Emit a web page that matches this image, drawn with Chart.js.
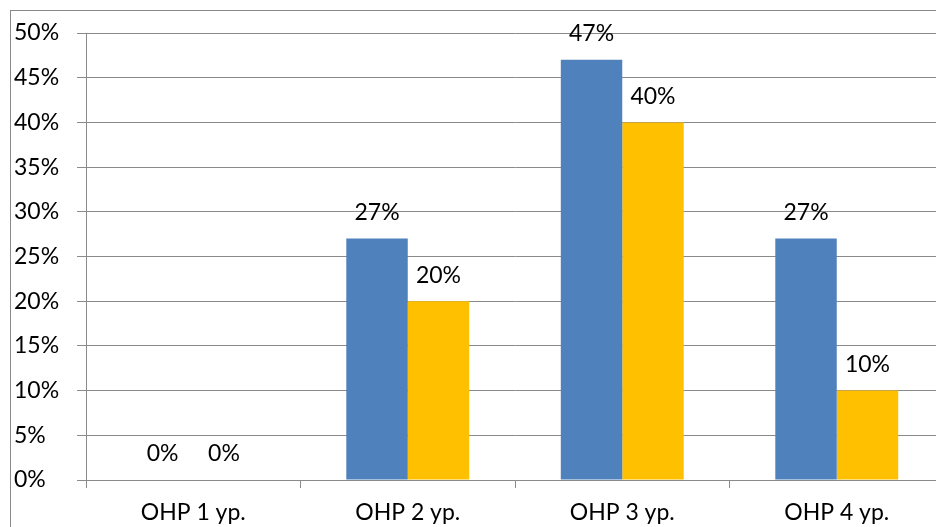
<!DOCTYPE html>
<html>
<head>
<meta charset="utf-8">
<script src="https://cdn.jsdelivr.net/npm/chart.js@4"></script>
<style>
  html, body { margin: 0; padding: 0; background: #fff; overflow: hidden; }
  #wrap { width: 960px; height: 527px; position: relative; }
</style>
</head>
<body>
<div id="wrap"><canvas id="chart"></canvas></div>
<script>
const categories = ['ОНР 1 ур.', 'ОНР 2 ур.', 'ОНР 3 ур.', 'ОНР 4 ур.'];
const seriesA = [0, 27, 47, 27];
const seriesB = [0, 20, 40, 10];
const yTicks = [0, 5, 10, 15, 20, 25, 30, 35, 40, 45, 50];

const gridColor = '#8a8a8a';
const font = { family: 'Lato', size: 23 };

// рамка вокруг диаграммы и подписи значений
const extras = {
    id: 'extras',
    beforeDraw(chart) {
        const c = chart.ctx;
        c.save();
        c.strokeStyle = '#8a8a8a';
        c.lineWidth = 1;
        c.strokeRect(10.5, 10.5, 2000, 2000);
        c.restore();
    },
    afterDatasetsDraw(chart) {
        const c = chart.ctx;
        c.save();
        c.font = font.size + 'px ' + font.family;
        c.fillStyle = '#000';
        c.textAlign = 'center';
        c.textBaseline = 'middle';
        chart.data.datasets.forEach((ds, i) => {
            chart.getDatasetMeta(i).data.forEach((bar, j) => {
                c.fillText(ds.data[j] + '%', bar.x, bar.y - 26);
            });
        });
        c.restore();
    }
};

new Chart(document.getElementById('chart'), {
    type: 'bar',
    data: {
        labels: categories,
        datasets: [{
            data: seriesA,
            backgroundColor: '#4f81bd'
        }, {
            data: seriesB,
            backgroundColor: '#ffc000'
        }]
    },
    options: {
        responsive: true,
        maintainAspectRatio: false,
        animation: false,
        devicePixelRatio: 1,
        categoryPercentage: 0.573,
        barPercentage: 1,
        layout: { padding: { left: 14, top: 33, right: 16, bottom: 0 } },
        plugins: { legend: { display: false }, tooltip: { enabled: false } },
        scales: {
            x: {
                grid: { offset: true, drawOnChartArea: false, color: gridColor, tickLength: 8 },
                border: { color: gridColor },
                ticks: { color: '#000', font: font, padding: 11, maxRotation: 0 },
                afterFit(s) { s.height = 47; }
            },
            y: {
                min: 0,
                max: 50,
                afterBuildTicks(s) { s.ticks = yTicks.map(v => ({ value: v })); },
                grid: { color: gridColor, tickLength: 9 },
                border: { color: gridColor },
                ticks: {
                    color: '#000',
                    font: font,
                    crossAlign: 'far',
                    callback: v => v + '%'
                },
                afterFit(s) { s.width = 72; }
            }
        }
    },
    plugins: [extras]
});
</script>
</body>
</html>
